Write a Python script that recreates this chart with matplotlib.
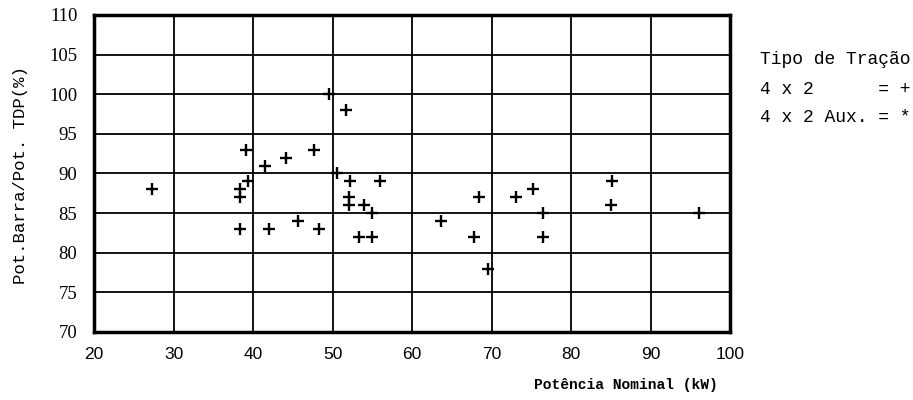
import matplotlib
matplotlib.use("Agg")
import matplotlib.pyplot as plt

# Data (Potência Nominal kW, Pot.Barra/Pot.TDP %)
pot_nominal = [27.3, 39.1, 39.4, 38.4, 38.4, 38.3, 41.5, 44.1, 47.6, 42.0, 45.7, 48.3,
               49.5, 51.7, 50.5, 52.2, 52.1, 52.1, 53.9, 54.9, 56.0, 53.3, 55.0,
               63.6, 68.4, 67.8, 69.5, 73.1, 75.2, 76.5, 76.5, 85.1, 85.0, 96.0]
pot_relativa = [88, 93, 89, 88, 87, 83, 91, 92, 93, 83, 84, 83,
                100, 98, 90, 89, 87, 86, 86, 85, 89, 82, 82,
                84, 87, 82, 78, 87, 88, 85, 82, 89, 86, 85]

x_ticks = [20, 30, 40, 50, 60, 70, 80, 90, 100]
y_ticks = [70, 75, 80, 85, 90, 95, 100, 105, 110]

mono = ["Liberation Mono", "DejaVu Sans Mono"]
serif = ["Liberation Serif", "DejaVu Serif"]
sans = ["Liberation Sans", "DejaVu Sans"]

fig = plt.figure(figsize=(9.13, 4.0), dpi=100)
ax = fig.add_axes([0.103, 0.17, 0.697, 0.7925])

ax.plot(pot_nominal, pot_relativa, linestyle="none", marker="+", markersize=8.5,
        markeredgewidth=1.7, color="black", zorder=3)

ax.set_xlim(20, 100)
ax.set_ylim(70, 110)
ax.set_xticks(x_ticks)
ax.set_yticks(y_ticks)
ax.set_xticklabels([str(v) for v in x_ticks], fontfamily=sans, fontsize=12.5)
ax.set_yticklabels([str(v) for v in y_ticks], fontfamily=serif, fontsize=13.5)
ax.tick_params(axis="x", length=0, pad=11)
ax.tick_params(axis="y", length=0, pad=12)
ax.grid(True, color="black", linewidth=1.3)
ax.set_axisbelow(True)
for s in ax.spines.values():
    s.set_linewidth(2.5)
    s.set_color("black")

fig.text(0.022, 0.5625, "Pot.Barra/Pot. TDP(%)", rotation=90, ha="center", va="center",
         fontfamily=mono, fontsize=12.5)
fig.text(0.685, 0.037, "Potência Nominal (kW)", ha="center", va="center",
         fontfamily=mono, fontsize=10.5, fontweight="bold")

fig.text(0.832, 0.85, "Tipo de Tração", ha="left", va="center", fontfamily=mono, fontsize=13)
fig.text(0.832, 0.775, "4 x 2      = +", ha="left", va="center", fontfamily=mono, fontsize=13)
fig.text(0.832, 0.7075, "4 x 2 Aux. = *", ha="left", va="center", fontfamily=mono, fontsize=13)

fig.savefig("out.png", dpi=100, facecolor="white")
